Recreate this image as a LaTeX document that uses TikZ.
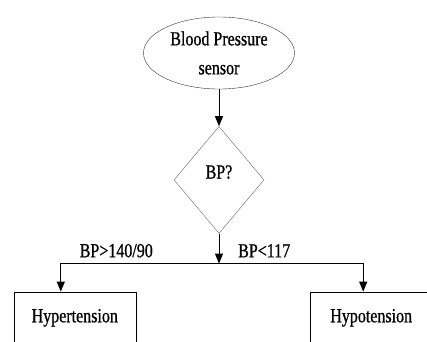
\documentclass[tikz,border=0pt]{standalone}
\usepackage{fontspec}
\setmainfont{Liberation Serif}[FakeStretch=0.8, FakeBold=0.8]
\usetikzlibrary{positioning,shapes.geometric,arrows.meta}

\begin{document}
\begin{tikzpicture}[x=1pt, y=1pt, font=\fontsize{20}{29}\selectfont,
  start/.style = {draw=black!80, ellipse, minimum width=151pt, minimum height=72pt, inner sep=0pt, align=center},
  decision/.style = {draw=black!60, diamond, aspect=0.84, minimum width=90pt, minimum height=107pt, inner sep=0pt, text depth=16pt},
  result/.style = {draw, rectangle, minimum width=122pt, minimum height=52pt, inner sep=0pt},
  lbl/.style = {inner sep=0pt},
  arr/.style = {-{Triangle[width=8pt,length=10pt]}, line width=0.9pt}]
  \useasboundingbox (0,0) rectangle (427,-341);
  \clip (0,0) rectangle (427,-341);
  \node[start] (sensor) at (219,-53) {Blood Pressure\\sensor};
  \node[decision] (bp) [below=37pt of sensor] {BP?};
  \coordinate[below=30pt of bp] (split);
  \node[result] (hyper) [below left=28pt and 83pt of split] {Hypertension};
  \node[result] (hypo) [below right=28pt and 91pt of split] {Hypotension};
  \node[lbl] (high) [above left=6pt and 66pt of split] {BP>140/90};
  \node[lbl] (low) [above right=6pt and 19pt of split] {BP<117};
  \draw[arr] (sensor) -- (bp);
  \draw[arr] (bp) -- (split);
  \draw[arr] (split) -| ([xshift=-14pt]hyper.north);
  \draw[arr] (split) -| ([xshift=-8pt]hypo.north);
\end{tikzpicture}
\end{document}
